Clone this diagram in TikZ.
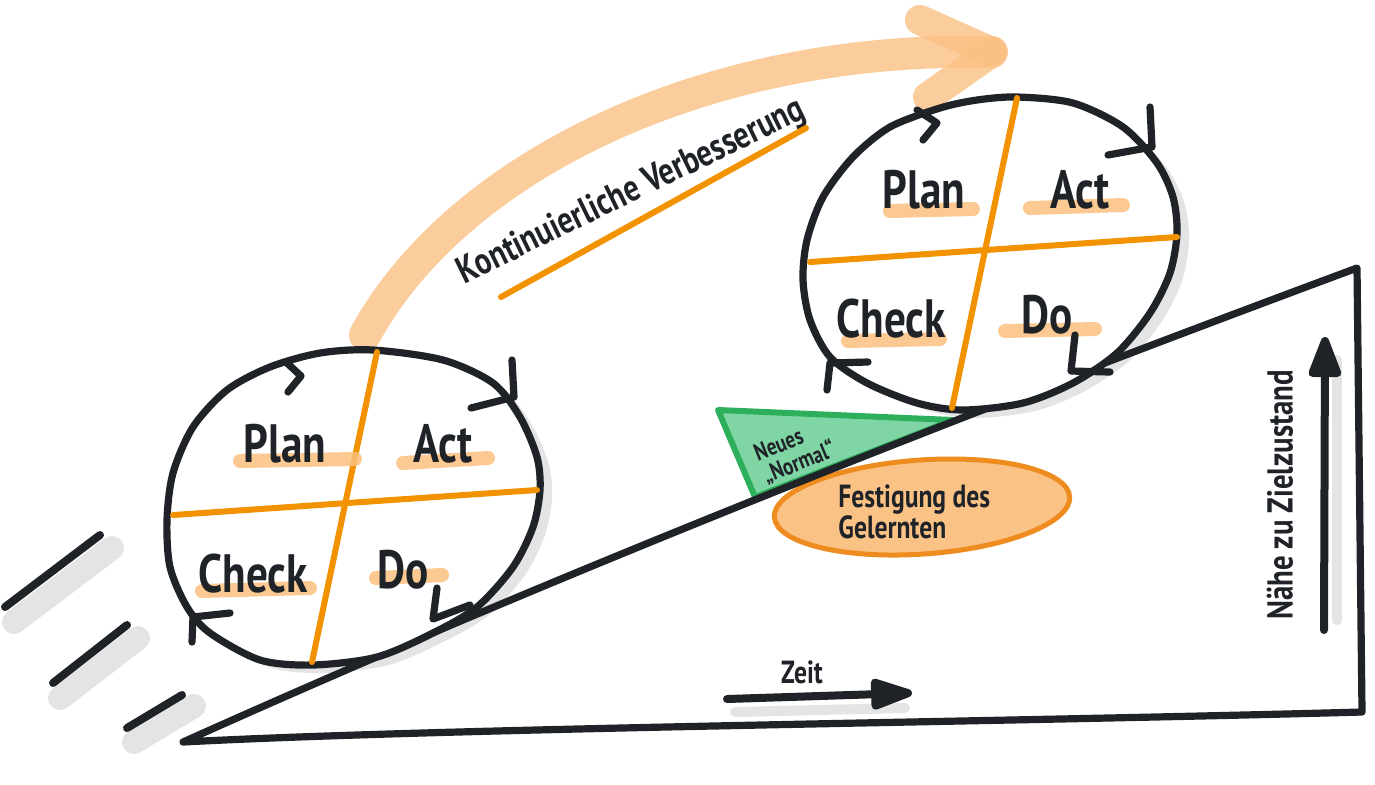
\documentclass[tikz,border=0pt]{standalone}
\usepackage{fontspec}
\setmainfont{PT Sans}
\newfontfamily\hand[FakeStretch=0.8]{PT Sans}
\usetikzlibrary{arrows.meta}
\definecolor{ink}{HTML}{1F2328}
\definecolor{org}{HTML}{F39200}
\definecolor{lorg}{HTML}{FBC07E}
\definecolor{arcc}{HTML}{FBC184}
\definecolor{gfill}{HTML}{80D5A5}
\definecolor{gline}{HTML}{2EAF5C}
\definecolor{efill}{HTML}{FBC286}
\definecolor{eline}{HTML}{EF8C1F}
\definecolor{shadowc}{HTML}{E4E4E4}
\tikzset{
  inkline/.style={draw=ink, line width=3.6pt, line cap=round, line join=round},
  crossline/.style={draw=org, line width=3pt, line cap=round},
  hl/.style={draw=lorg, line width=7pt, line cap=round, opacity=0.85},
  word/.style={font=\hand\bfseries\fontsize{27}{27}\selectfont, text=ink, inner sep=0pt, anchor=base},
  label/.style={font=\hand\bfseries\fontsize{16}{18}\selectfont, text=ink, inner sep=0pt},
  bigarc/.style={draw=arcc, line width=16pt, line cap=round, opacity=0.8},
  ovalshadow/.style={fill=shadowc, draw=none},
  speedline/.style={draw=ink, line width=4pt, line cap=round},
  speedshadow/.style={draw=shadowc, line width=12pt, line cap=round},
}
\begin{document}
\begin{tikzpicture}[x=0.5pt, y=-0.5pt]
\fill[white] (0,0) rectangle (1375,784);
\useasboundingbox (0,0) rectangle (1375,784);

% speed lines
\draw[speedshadow] (14,622) -- (112,548);
\draw[speedshadow] (60,698) -- (138,638);
\draw[speedshadow] (134,742) -- (194,706);
\draw[speedline] (5,607) -- (100,535);
\draw[speedline] (53,683) -- (127,625);
\draw[speedline] (127,728) -- (182,695);

% big improvement arrow
\coordinate (arcS) at (365,335);
\coordinate (arcE) at (992,52);
\coordinate (headU) at (920,20);
\coordinate (headL) at (928,97);
\draw[bigarc] (arcS) .. controls (455,170) and (700,45) .. (arcE);
\draw[bigarc, line width=15pt] (headU) -- (arcE);
\draw[bigarc, line width=15pt] (arcE) -- (headL);

\node[font=\hand\bfseries\fontsize{19}{19}\selectfont, text=ink, inner sep=0pt, rotate=26] (kv) at (632,192) {Kontinuierliche Verbesserung};
\draw[crossline] (501,297) -- (806,128);

% green triangle and orange ellipse
\draw[fill=gfill, draw=gline, line width=3pt, line join=round] (718,410) -- (953,420) -- (755,497) -- cycle;
\node[font=\hand\bfseries\fontsize{12}{12}\selectfont, text=ink, align=left, rotate=22, inner sep=0pt] (nn) at (795,452) {Neues\\„Normal“};
\draw[fill=efill, draw=eline, line width=2.5pt, rotate around={4:(922,507)}] (922,507) ellipse [x radius=148, y radius=47];
\node[label, anchor=base west] (fest1) at (838,507) {Festigung des};
\node[label, anchor=base west] (fest2) at (838,538) {Gelernten};

% circle shadows
\fill[ovalshadow, shift={(12,8)}] plot[smooth cycle] coordinates {(373,350) (443,360) (493,383) (520,417) (537,457) (540,490) (533,527) (513,567) (477,607) (433,633) (377,657) (313,665) (260,660) (210,633) (187,607) (170,567) (167,520) (173,473) (193,427) (227,390) (270,367) (320,353)};
\fill[ovalshadow, shift={(12,8)}] plot[smooth cycle] coordinates {(1017,97) (1073,103) (1123,127) (1157,163) (1173,197) (1177,233) (1170,273) (1150,313) (1117,353) (1073,383) (1023,403) (963,410) (917,403) (867,383) (830,357) (810,320) (803,280) (807,240) (823,197) (853,157) (890,127) (940,108) (977,100)};

% big triangle
\draw[inkline] (1357,268) .. controls (967,413) and (573,567) .. (183,742) .. controls (450,728) and (1000,722) .. (1362,712) -- cycle;

% left circle
\draw[inkline, fill=white] plot[smooth cycle] coordinates {(373,350) (443,360) (493,383) (520,417) (537,457) (540,490) (533,527) (513,567) (477,607) (433,633) (377,657) (313,665) (260,660) (210,633) (187,607) (170,567) (167,520) (173,473) (193,427) (227,390) (270,367) (320,353)};
\draw[crossline] (173,515) -- (537,490);
\draw[crossline] (377,352) -- (312,662);
\draw[hl] (240,461) -- (355,459);
\draw[hl] (403,463) -- (488,458);
\draw[hl] (202,591) -- (310,588);
\draw[hl] (376,578) -- (442,575);
\node[word] (plan1) at (285,462) {Plan};
\node[word] (act1) at (443,462) {Act};
\node[word] (check1) at (253,592) {Check};
\node[word] (do1) at (403,588) {Do};
\draw[inkline] (287,363) -- (301,376) -- (288,392);
\draw[inkline] (512,360) -- (514,397) -- (471,408);
\draw[inkline] (437,588) -- (433,619) -- (470,605);
\draw[inkline] (230,613) -- (193,617) -- (192,642);

% right circle
\draw[inkline, fill=white] plot[smooth cycle] coordinates {(1017,97) (1073,103) (1123,127) (1157,163) (1173,197) (1177,233) (1170,273) (1150,313) (1117,353) (1073,383) (1023,403) (963,410) (917,403) (867,383) (830,357) (810,320) (803,280) (807,240) (823,197) (853,157) (890,127) (940,108) (977,100)};
\draw[crossline] (810,262) -- (1177,237);
\draw[crossline] (1017,98) -- (952,408);
\draw[hl] (890,211) -- (973,209);
\draw[hl] (1030,208) -- (1123,205);
\draw[hl] (848,341) -- (940,339);
\draw[hl] (1005,331) -- (1095,329);
\node[word] (plan2) at (924,208) {Plan};
\node[word] (act2) at (1080,208) {Act};
\node[word] (check2) at (891,337) {Check};
\node[word] (do2) at (1047,333) {Do};
\draw[inkline] (917,110) -- (937,123) -- (923,140);
\draw[inkline] (1150,107) -- (1152,147) -- (1108,155);
\draw[inkline] (1075,335) -- (1071,371) -- (1110,372);
\draw[inkline] (868,362) -- (830,363) -- (827,390);

% Zeit arrow
\coordinate (zs) at (727,699);
\coordinate (ze) at (912,693);
\draw[draw=shadowc, line width=5pt, line cap=round] (735,712) -- (905,708);
\draw[inkline, line width=4pt, -{Triangle[length=25pt, width=16pt, round]}] (zs) -- (ze);
\node[label, anchor=base] (zeit) at (802,683) {Zeit};

% vertical arrow
\coordinate (vs) at (1324,630);
\coordinate (ve) at (1325,337);
\draw[draw=shadowc, line width=5pt, line cap=round] (1337,620) -- (1337,360);
\draw[inkline, line width=4pt, -{Triangle[length=24pt, width=17pt, round]}] (vs) -- (ve);
\node[font=\hand\bfseries\fontsize{18}{18}\selectfont, text=ink, inner sep=0pt, rotate=90] (naehe) at (1280,495) {Nähe zu Zielzustand};
\end{tikzpicture}
\end{document}
